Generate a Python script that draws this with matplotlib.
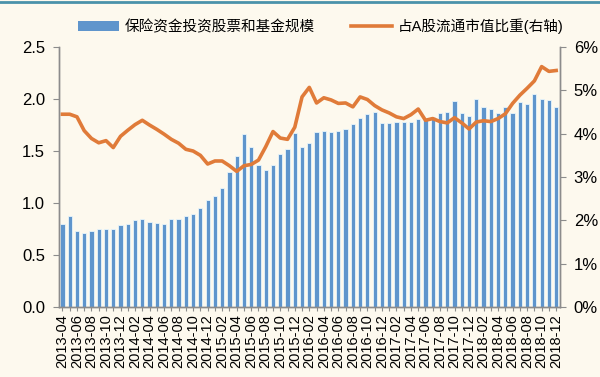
import numpy as np
import matplotlib
matplotlib.use('Agg')
import matplotlib.pyplot as plt
from matplotlib.lines import Line2D
from matplotlib.patches import Patch

plt.rcParams['font.family'] = ['Liberation Sans', 'Noto Sans CJK SC']

# 月份 (2013-04 ~ 2018-12)
months = [f'{y}-{m:02d}' for y in range(2013, 2019) for m in range(1, 13)]
months = months[3:]

# 保险资金投资股票和基金规模 (万亿元)
scale = [0.80, 0.87, 0.73, 0.71, 0.73, 0.75, 0.75, 0.75, 0.79, 0.80,
         0.84, 0.85, 0.82, 0.81, 0.80, 0.85, 0.85, 0.87, 0.89, 0.95,
         1.03, 1.07, 1.14, 1.30, 1.45, 1.66, 1.54, 1.37, 1.32, 1.37,
         1.47, 1.52, 1.67, 1.54, 1.58, 1.68, 1.69, 1.68, 1.69, 1.71,
         1.76, 1.82, 1.86, 1.88, 1.77, 1.77, 1.78, 1.78, 1.78, 1.81,
         1.82, 1.83, 1.87, 1.88, 1.98, 1.87, 1.84, 2.00, 1.92, 1.90,
         1.87, 1.92, 1.87, 1.97, 1.95, 2.05, 2.00, 1.99, 1.92]

# 占A股流通市值比重 (%)
share = [4.45, 4.45, 4.39, 4.07, 3.89, 3.79, 3.84, 3.68, 3.94, 4.08,
         4.21, 4.31, 4.20, 4.10, 3.99, 3.87, 3.78, 3.64, 3.60, 3.50,
         3.30, 3.37, 3.37, 3.26, 3.13, 3.26, 3.29, 3.39, 3.70, 4.05,
         3.90, 3.87, 4.15, 4.85, 5.07, 4.71, 4.83, 4.78, 4.70, 4.71,
         4.62, 4.85, 4.79, 4.65, 4.55, 4.48, 4.39, 4.35, 4.44, 4.57,
         4.31, 4.35, 4.28, 4.25, 4.37, 4.25, 4.11, 4.27, 4.30, 4.28,
         4.35, 4.46, 4.70, 4.89, 5.05, 5.22, 5.55, 5.44, 5.46]

bg = '#fdf9ee'
bar_color = '#5f95cc'
line_color = '#e07b39'
axis_color = '#8c8c8c'

fig = plt.figure(figsize=(6, 3.77), dpi=100, facecolor=bg)
ax1 = fig.add_axes([0.098, 0.186, 0.835, 0.689])
ax1.set_facecolor(bg)

x = np.arange(len(months))
ax1.bar(x, scale, width=0.58, color=bar_color, edgecolor='#e8f5fb', linewidth=0.6)
ax1.set_xlim(-0.5, len(months) - 0.5)
ax1.set_ylim(0, 2.5)
ax1.set_yticks([0, 0.5, 1.0, 1.5, 2.0, 2.5])
ax1.set_yticklabels(['0.0', '0.5', '1.0', '1.5', '2.0', '2.5'], fontsize=12)
ax1.set_xticks(x)
ax1.set_xticklabels([m if i % 2 == 0 else '' for i, m in enumerate(months)],
                    rotation=90, fontsize=10.5)
ax1.tick_params(axis='x', length=3, color=axis_color, pad=2)
ax1.tick_params(axis='y', length=4, color=axis_color, pad=6)

ax2 = ax1.twinx()  # 右轴
ax2.plot(x, share, color=line_color, linewidth=2.6, solid_joinstyle='round')
ax2.set_ylim(0, 6)
ax2.set_yticks([0, 1, 2, 3, 4, 5, 6])
ax2.set_yticklabels([f'{v}%' for v in range(7)], fontsize=12)
ax2.tick_params(axis='y', length=4, color=axis_color, pad=6)

for a in (ax1, ax2):
    a.spines['top'].set_visible(False)
    for s in ('left', 'right', 'bottom'):
        a.spines[s].set_color(axis_color)
        a.spines[s].set_linewidth(1.0)

handles = [Patch(facecolor=bar_color, edgecolor='none'),
           Line2D([0], [0], color=line_color, linewidth=2.6)]
labels = ['保险资金投资股票和基金规模', '占A股流通市值比重(右轴)']
fig.legend(handles, labels, loc='center', bbox_to_anchor=(0.535, 0.93), ncol=2,
           frameon=False, fontsize=10.5, handlelength=2.8, handleheight=0.6,
           columnspacing=2.5, handletextpad=0.4)

# 顶部装饰线
fig.add_artist(Line2D([0, 1], [0.995, 0.995], color='#4a92aa', linewidth=2,
                      transform=fig.transFigure))

fig.savefig('out.png', dpi=100, facecolor=bg)
